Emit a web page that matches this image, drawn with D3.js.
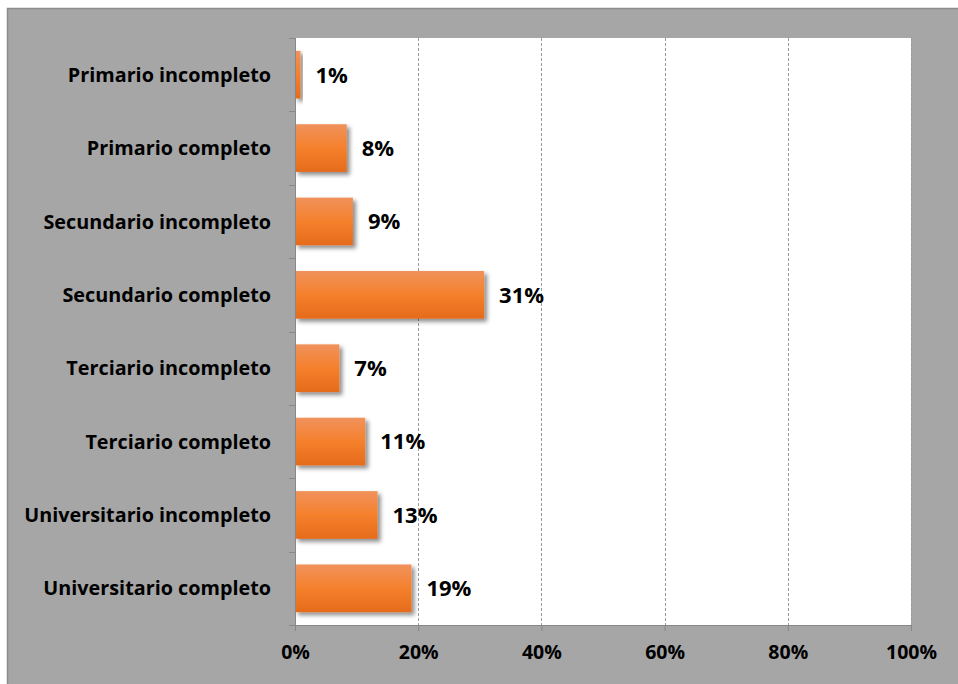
<!DOCTYPE html>
<html>
<head>
<meta charset="utf-8">
<script src="https://cdn.jsdelivr.net/npm/d3@7"></script>
<style>
  html, body { margin: 0; padding: 0; background: #fff; }
  svg { display: block; font-family: "Open Sans", Lato, sans-serif; }
</style>
</head>
<body>
<div id="chart"></div>
<script>
// education level categories, top to bottom
var categories = [
  "Primario incompleto",
  "Primario completo",
  "Secundario incompleto",
  "Secundario completo",
  "Terciario incompleto",
  "Terciario completo",
  "Universitario incompleto",
  "Universitario completo"
];
// share of respondents per level
var shares = [0.009, 0.084, 0.094, 0.307, 0.072, 0.114, 0.134, 0.189];
var xTicks = [0, 0.2, 0.4, 0.6, 0.8, 1];

var W = 958, H = 684;
var margin = {top: 38, right: 47, bottom: 59, left: 295},
    width = W - margin.left - margin.right,
    height = H - margin.top - margin.bottom;

var data = categories.map(function(c, i) { return {cat: c, v: shares[i]}; });

var svg = d3.select("#chart").append("svg")
    .attr("width", W)
    .attr("height", H);

var defs = svg.append("defs");
var grad = defs.append("linearGradient")
    .attr("id", "barGrad")
    .attr("x1", 0).attr("y1", 0).attr("x2", 0).attr("y2", 1);
grad.append("stop").attr("offset", "0%").attr("stop-color", "#f0925c");
grad.append("stop").attr("offset", "50%").attr("stop-color", "#f5802c");
grad.append("stop").attr("offset", "100%").attr("stop-color", "#e56b1b");

var shadow = defs.append("filter")
    .attr("id", "shadow")
    .attr("x", "-20%").attr("y", "-20%")
    .attr("width", "150%").attr("height", "160%");
shadow.append("feDropShadow")
    .attr("dx", 3).attr("dy", 3)
    .attr("stdDeviation", 2.2)
    .attr("flood-color", "#000")
    .attr("flood-opacity", 0.45);

// gray chart frame
svg.append("rect")
    .attr("x", 7.5).attr("y", 8.5)
    .attr("width", W).attr("height", H)
    .attr("fill", "#a6a6a6")
    .attr("stroke", "#8c8c8c")
    .attr("stroke-width", 1.5);

var g = svg.append("g")
    .attr("transform", "translate(" + margin.left + "," + margin.top + ")");

// plot area
g.append("rect")
    .attr("width", width).attr("height", height)
    .attr("fill", "#fff");

var x = d3.scaleLinear().domain([0, 1]).range([0, width]);
var y = d3.scaleBand()
    .domain(categories)
    .range([0, height])
    .paddingInner(0.35)
    .paddingOuter(0.175);

// dashed gridlines
g.selectAll(".grid")
    .data(xTicks.slice(1))
  .enter().append("line")
    .attr("class", "grid")
    .attr("x1", function(d) { return Math.round(x(d)) + 0.5; })
    .attr("x2", function(d) { return Math.round(x(d)) + 0.5; })
    .attr("y1", 0).attr("y2", height)
    .attr("stroke", "#9a9a9a")
    .attr("stroke-dasharray", "3,2");

// bars
g.selectAll(".bar")
    .data(data)
  .enter().append("rect")
    .attr("class", "bar")
    .attr("x", 0)
    .attr("y", function(d) { return y(d.cat); })
    .attr("width", function(d) { return x(d.v); })
    .attr("height", y.bandwidth())
    .attr("fill", "url(#barGrad)")
    .attr("filter", "url(#shadow)");

// value labels
var fmt = d3.format(".0%");
g.selectAll(".val")
    .data(data)
  .enter().append("text")
    .attr("class", "val")
    .attr("x", function(d) { return x(d.v) + 15; })
    .attr("y", function(d) { return y(d.cat) + y.bandwidth() / 2; })
    .attr("dy", "0.36em")
    .attr("font-size", 22)
    .attr("font-weight", "bold")
    .attr("fill", "#000")
    .text(function(d) { return fmt(d.v); });

// y axis: line, ticks at band edges, labels
var step = y.step();
g.append("line")
    .attr("x1", 0.5).attr("x2", 0.5)
    .attr("y1", 0).attr("y2", height + 6)
    .attr("stroke", "#888");
g.selectAll(".ytick")
    .data(d3.range(categories.length + 1))
  .enter().append("line")
    .attr("class", "ytick")
    .attr("x1", -6).attr("x2", 0)
    .attr("y1", function(i) { return Math.round(i * step) + 0.5; })
    .attr("y2", function(i) { return Math.round(i * step) + 0.5; })
    .attr("stroke", "#888");
g.selectAll(".ylab")
    .data(categories)
  .enter().append("text")
    .attr("class", "ylab")
    .attr("x", -24)
    .attr("y", function(d) { return y(d) + y.bandwidth() / 2; })
    .attr("dy", "0.36em")
    .attr("text-anchor", "end")
    .attr("font-size", 19.8)
    .attr("font-weight", "bold")
    .attr("fill", "#000")
    .text(function(d) { return d; });

// x axis
var xAxis = g.append("g")
    .attr("transform", "translate(0," + height + ")")
    .call(d3.axisBottom(x).tickValues(xTicks).tickFormat(d3.format(".0%")).tickSize(6).tickPadding(14));
xAxis.select(".domain").attr("stroke", "#888");
xAxis.selectAll(".tick line").attr("stroke", "#888");
xAxis.selectAll("text")
    .attr("font-size", 19.5)
    .attr("font-weight", "bold")
    .attr("font-family", "'Open Sans', Lato, sans-serif")
    .attr("fill", "#000");
</script>
</body>
</html>
